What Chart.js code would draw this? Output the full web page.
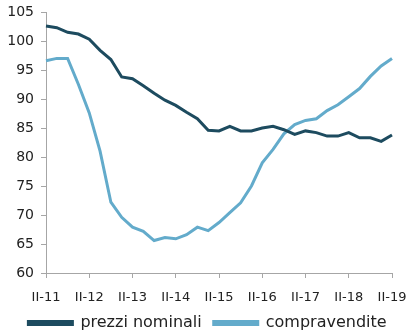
<!DOCTYPE html>
<html>
<head>
<meta charset="utf-8">
<script src="https://cdn.jsdelivr.net/npm/chart.js@4/dist/chart.umd.min.js"></script>
<style>
  html, body { margin: 0; padding: 0; background: #fff; }
  #wrap { width: 415px; height: 335px; }
</style>
</head>
<body>
<div id="wrap"><canvas id="c" width="415" height="335"></canvas></div>
<script>
// Quarterly periods, II-2011 to II-2019
const quarters = [
  "II-11","III-11","IV-11",
  "I-12","II-12","III-12","IV-12",
  "I-13","II-13","III-13","IV-13",
  "I-14","II-14","III-14","IV-14",
  "I-15","II-15","III-15","IV-15",
  "I-16","II-16","III-16","IV-16",
  "I-17","II-17","III-17","IV-17",
  "I-18","II-18","III-18","IV-18",
  "I-19","II-19"
];

// Index numbers
const prezziNominali = [
  102.6, 102.3, 101.5, 101.2, 100.3, 98.4, 96.8, 93.8, 93.5, 92.3, 91.0,
  89.8, 88.9, 87.7, 86.6, 84.6, 84.5, 85.3, 84.5, 84.5, 85.0, 85.3,
  84.7, 83.9, 84.5, 84.2, 83.6, 83.6, 84.2, 83.3, 83.3, 82.7, 83.8
];
const compravendite = [
  96.6, 97.0, 97.0, 92.5, 87.6, 81.0, 72.2, 69.6, 67.9, 67.2, 65.6,
  66.1, 65.9, 66.6, 67.9, 67.3, 68.7, 70.4, 72.1, 75.0, 79.0, 81.3,
  84.0, 85.6, 86.3, 86.6, 88.0, 89.0, 90.4, 91.8, 93.9, 95.7, 97.0
];

const DARK = '#1d4b5f';
const LIGHT = '#63abcb';
const AXIS = '#a6a6a6';
const FONT = 'DejaVu Sans';

new Chart(document.getElementById('c'), {
  type: 'line',
  data: {
    labels: quarters,
    datasets: [
      { label: 'prezzi nominali', data: prezziNominali, borderColor: DARK, backgroundColor: DARK,
        borderWidth: 3, pointRadius: 0, tension: 0 },
      { label: 'compravendite', data: compravendite, borderColor: LIGHT, backgroundColor: LIGHT,
        borderWidth: 3, pointRadius: 0, tension: 0 }
    ]
  },
  options: {
    responsive: false,
    animation: false,
    layout: { padding: { top: 12, right: 0, left: 0, bottom: -6 } },
    plugins: {
      tooltip: { enabled: false },
      legend: {
        position: 'bottom',
        labels: {
          color: '#222',
          font: { family: FONT, size: 16 },
          boxWidth: 44,
          boxHeight: 3,
          padding: 12
        }
      }
    },
    scales: {
      x: {
        type: 'category',
        offset: false,
        border: { display: true, color: AXIS, width: 1 },
        grid: {
          drawOnChartArea: false,
          drawTicks: true,
          tickLength: 5,
          color: ctx => (ctx.index % 4 === 0 ? AXIS : 'rgba(0,0,0,0)')
        },
        ticks: {
          autoSkip: false,
          maxRotation: 0,
          color: '#222',
          font: { family: FONT, size: 13 },
          padding: 12,
          callback: function (v, i) { return i % 4 === 0 ? this.getLabelForValue(v) : ''; }
        },
        afterFit: s => { s.height = 30; s.paddingLeft = 0; s.paddingRight = 23; }
      },
      y: {
        min: 60,
        max: 105,
        border: { display: true, color: AXIS, width: 1 },
        grid: { drawOnChartArea: false, drawTicks: true, tickLength: 5, color: AXIS },
        ticks: {
          stepSize: 5,
          color: '#222',
          font: { family: FONT, size: 14 },
          padding: 7
        },
        afterFit: s => { s.width = 46; s.paddingTop = 0; s.paddingBottom = 0; }
      }
    }
  }
});
</script>
</body>
</html>
